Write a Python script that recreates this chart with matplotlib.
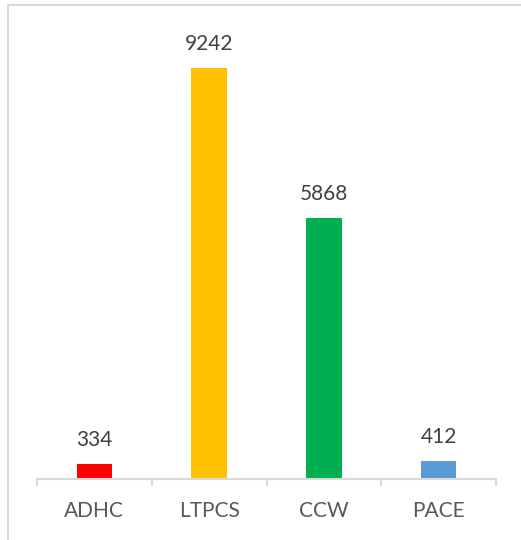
import matplotlib.pyplot as plt
from matplotlib.patches import Rectangle

# data
programs = ["ADHC", "LTPCS", "CCW", "PACE"]
counts = [334, 9242, 5868, 412]
colors = ["#FF0000", "#FFC000", "#00B050", "#5B9BD5"]

plt.rcParams['font.family'] = ['Lato', 'DejaVu Sans']

fig = plt.figure(figsize=(5.21, 5.40), dpi=100)
ax = fig.add_axes([37/521, 61/540, 459/521, 445/540])

x = range(len(programs))
bars = ax.bar(x, counts, width=0.31, color=colors)

for b, v in zip(bars, counts):
    ax.annotate(str(v), (b.get_x() + b.get_width()/2, v), xytext=(0, 13),
                textcoords='offset points', ha='center', va='baseline',
                fontsize=15, color='#404040')

ax.set_xlim(-0.5, 3.5)
ax.set_ylim(0, 10000)
ax.set_yticks([])
ax.set_xticks(list(x))
ax.set_xticklabels(programs, fontsize=15, color='#595959')
ax.tick_params(axis='x', which='major', length=0, pad=16)
ax.set_xticks([-0.5, 0.5, 1.5, 2.5, 3.5], minor=True)
ax.tick_params(axis='x', which='minor', length=5, width=1.5, color='#D9D9D9')

for s in ['top', 'right', 'left']:
    ax.spines[s].set_visible(False)
ax.spines['bottom'].set_color('#D9D9D9')
ax.spines['bottom'].set_linewidth(1.5)

# chart border (cropped on the right and bottom)
fig.patches.append(Rectangle((8/521, -0.1), 1.2, 1.1 - 5/540, transform=fig.transFigure,
                             fill=False, edgecolor='#D9D9D9', linewidth=1.5))

fig.savefig("out.png", dpi=100)
